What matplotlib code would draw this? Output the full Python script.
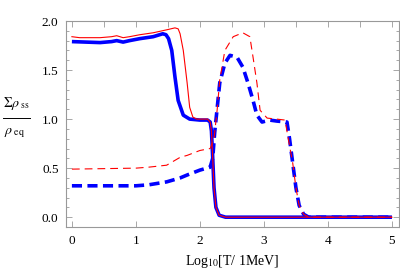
import matplotlib
matplotlib.use('Agg')
import matplotlib.pyplot as plt
from matplotlib.lines import Line2D
from matplotlib.ticker import MultipleLocator

plt.rcParams['font.family'] = ['Liberation Serif', 'DejaVu Serif']
plt.rcParams['mathtext.fontset'] = 'stix'

# red thin solid
x_red = [0.0, 0.12, 0.44, 0.62, 0.70, 0.80, 0.90, 1.06, 1.27, 1.48, 1.61, 1.66, 1.69, 1.74, 1.80, 1.84,
         1.89, 1.95, 2.0, 2.12, 2.16, 2.18, 2.20, 2.22, 2.25, 2.30, 2.40, 5.0]
y_red = [1.84, 1.83, 1.83, 1.84, 1.85, 1.83, 1.84, 1.86, 1.88, 1.91, 1.93, 1.92, 1.87, 1.70, 1.37, 1.12,
         1.02, 1.00, 1.00, 1.00, 0.97, 0.88, 0.60, 0.30, 0.10, 0.02, 0.0, 0.0]

# blue thick solid
x_blue = [0.0, 0.44, 0.62, 0.70, 0.80, 0.90, 1.06, 1.27, 1.42, 1.47, 1.51, 1.56, 1.61, 1.66, 1.74, 1.84,
          2.0, 2.12, 2.16, 2.18, 2.20, 2.22, 2.25, 2.30, 2.40, 5.0]
y_blue = [1.79, 1.78, 1.79, 1.80, 1.785, 1.80, 1.82, 1.84, 1.87, 1.86, 1.82, 1.70, 1.43, 1.19, 1.04, 1.00,
          0.99, 0.99, 0.97, 0.88, 0.60, 0.30, 0.10, 0.02, 0.0, 0.0]

# red thin dashed
x_red_d = [0.0, 1.0, 1.2, 1.48, 1.69, 1.80, 2.0, 2.16, 2.22, 2.27, 2.31, 2.39, 2.52, 2.67, 2.78, 2.83,
           2.89, 2.94, 3.05, 3.20, 3.33, 3.38, 3.45, 3.50, 3.55, 3.62, 3.70, 5.0]
y_red_d = [0.49, 0.50, 0.51, 0.53, 0.61, 0.63, 0.68, 0.70, 0.80, 1.10, 1.40, 1.70, 1.84, 1.88, 1.84, 1.63,
           1.37, 1.09, 1.01, 1.00, 0.99, 0.80, 0.55, 0.30, 0.12, 0.03, 0.0, 0.0]

# blue thick dashed
x_blue_d = [0.0, 1.0, 1.2, 1.48, 1.69, 1.80, 2.0, 2.16, 2.20, 2.23, 2.31, 2.39, 2.47, 2.58, 2.67, 2.75,
            2.83, 2.89, 2.97, 3.09, 3.20, 3.36, 3.40, 3.45, 3.50, 3.55, 3.62, 3.70, 5.0]
y_blue_d = [0.32, 0.32, 0.33, 0.36, 0.40, 0.43, 0.48, 0.51, 0.60, 0.86, 1.37, 1.57, 1.65, 1.63, 1.53, 1.37,
            1.19, 1.04, 0.97, 0.99, 0.98, 0.97, 0.80, 0.55, 0.30, 0.12, 0.03, 0.0, 0.0]

fig = plt.figure(figsize=(4.0, 2.76), dpi=100, facecolor='w')
ax = fig.add_axes([65.5 / 400, 49 / 276, 333.5 / 400, 206 / 276])

ax.plot(x_blue, y_blue, color='#0000ff', linewidth=2.6, solid_capstyle='butt')
ax.plot(x_blue_d, y_blue_d, color='#0000ff', linewidth=2.6, dashes=(2.8, 1.5), dash_capstyle='butt')
ax.plot(x_red, y_red, color='#ff0000', linewidth=0.8)
ax.plot(x_red_d, y_red_d, color='#ff0000', linewidth=0.8, dashes=(7, 4.5))

ax.set_xlim(-0.1, 5.11)
ax.set_ylim(-0.1, 2.0)

ax.xaxis.set_major_locator(MultipleLocator(1))
ax.xaxis.set_minor_locator(MultipleLocator(0.5))
ax.yaxis.set_major_locator(MultipleLocator(0.5))
ax.yaxis.set_minor_locator(MultipleLocator(0.1))
ax.yaxis.set_major_formatter(matplotlib.ticker.FormatStrFormatter('%.1f'))

frame = '#999999'
for s in ax.spines.values():
    s.set_color(frame)
    s.set_linewidth(0.8)
ax.tick_params(axis='both', which='both', direction='in', color=frame, width=0.6,
               labelsize=9.5, top=True, right=True)
ax.tick_params(axis='y', which='major', length=4.5, pad=5)
ax.tick_params(axis='y', which='minor', length=2.5)
ax.tick_params(axis='x', which='major', length=4, pad=6)
ax.tick_params(axis='x', which='minor', length=4, bottom=False, top=True)

ax.set_xlabel(r'Log$_{10}$[T/ 1MeV]', fontsize=10, labelpad=4)

# y label drawn as a stacked fraction
fig.text(17 / 400, 1 - 104 / 276, r'$\Sigma\rho_{\rm\ ss}$', fontsize=10, ha='center', va='center')
fig.text(15 / 400, 1 - 133 / 276, r'$\rho_{\rm\ eq}$', fontsize=10, ha='center', va='center')
fig.add_artist(Line2D([3 / 400, 30 / 400], [1 - 118 / 276, 1 - 118 / 276],
                      color='black', linewidth=0.7, transform=fig.transFigure))

fig.savefig('out.png', dpi=100)
